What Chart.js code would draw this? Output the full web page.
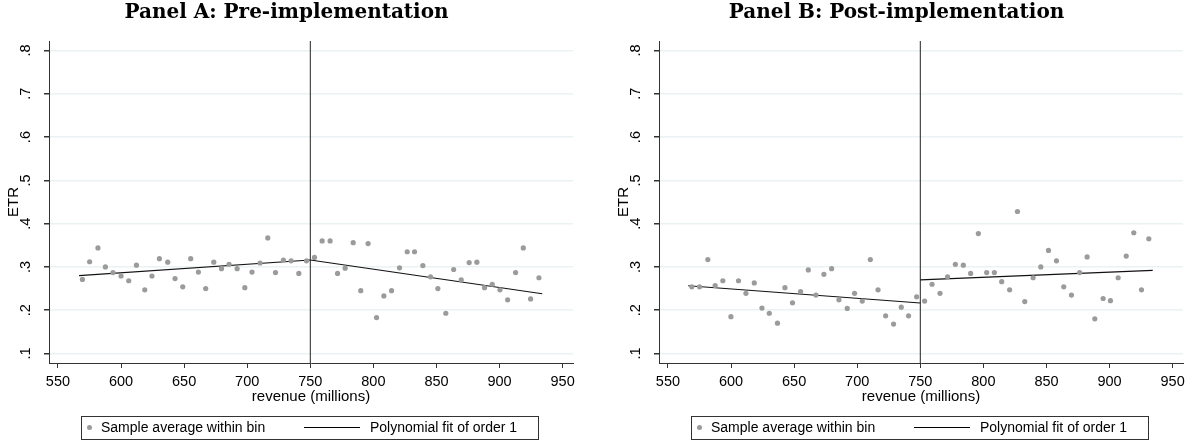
<!DOCTYPE html>
<html>
<head>
<meta charset="utf-8">
<script src="https://cdn.jsdelivr.net/npm/chart.js@4.4.1/dist/chart.umd.min.js"></script>
<style>
	body { margin: 0; background: #fff; width: 1194px; height: 443px; overflow: hidden; position: relative; font-family: 'Liberation Sans', Arial, sans-serif; }
	.panel { position: absolute; top: 0; }
	.legend { position: absolute; top: 416px; width: 458px; height: 24px; border: 1px solid #333; box-sizing: border-box; font-size: 14px; color: #000; }
	.legend .dot { position: absolute; left: 5px; top: 8px; width: 5px; height: 5px; border-radius: 50%; background: #9b9b9b; }
	.legend .t1 { position: absolute; left: 19px; top: 2px; white-space: nowrap; }
	.legend .ln { position: absolute; left: 222px; top: 10px; width: 56px; height: 0; border-top: 1px solid #000; }
	.legend .t2 { position: absolute; left: 288px; top: 2px; white-space: nowrap; }
</style>
</head>
<body>

<div class="panel" style="left:0px"><canvas id="panelA" width="586" height="443"></canvas></div>
<div class="panel" style="left:610px"><canvas id="panelB" width="584" height="443"></canvas></div>

<div class="legend" style="left:81px">
	<span class="dot"></span><span class="t1">Sample average within bin</span>
	<span class="ln"></span><span class="t2">Polynomial fit of order 1</span>
</div>
<div class="legend" style="left:691px">
	<span class="dot"></span><span class="t1">Sample average within bin</span>
	<span class="ln"></span><span class="t2">Polynomial fit of order 1</span>
</div>

<script>
// ----- ----- -----
// data
// ----- ----- -----

const revTicks = [550, 600, 650, 700, 750, 800, 850, 900, 950];
const etrTicks = [0.1, 0.2, 0.3, 0.4, 0.5, 0.6, 0.7, 0.8];
const cutoff = 750;

// Panel A: pre-implementation, bin averages
const binRevA = [
	569.4, 575.1, 581.7, 587.6, 593.6, 600.0, 606.1, 612.2, 618.8, 624.5,
	630.4, 637.0, 642.8, 648.9, 655.2, 661.3, 667.1, 673.5, 679.6, 685.6,
	692.0, 698.1, 703.8, 710.2, 716.3, 722.4, 728.7, 734.8, 740.9, 747.0,
	753.3, 759.4, 765.7, 771.6, 777.6, 784.0, 790.0, 795.8, 802.5, 808.3,
	814.4, 820.7, 826.8, 832.6, 839.2, 845.3, 851.1, 857.4, 863.6, 869.6,
	875.9, 882.0, 888.1, 894.2, 900.3, 906.4, 912.7, 918.8, 924.6, 931.2
];
const etrA = [
	0.271, 0.312, 0.344, 0.300, 0.287, 0.279, 0.268, 0.304, 0.247, 0.279,
	0.319, 0.311, 0.273, 0.254, 0.319, 0.288, 0.250, 0.311, 0.296, 0.306,
	0.296, 0.252, 0.288, 0.309, 0.367, 0.287, 0.316, 0.314, 0.285, 0.314,
	0.322, 0.360, 0.360, 0.285, 0.297, 0.356, 0.245, 0.354, 0.183, 0.233,
	0.245, 0.298, 0.335, 0.335, 0.303, 0.277, 0.250, 0.193, 0.294, 0.270,
	0.310, 0.311, 0.252, 0.260, 0.247, 0.224, 0.287, 0.344, 0.226, 0.275
];
const fitRevLeftA = [566.7, 750];
const fitEtrLeftA = [0.280, 0.316];
const fitRevRightA = [750, 933.8];
const fitEtrRightA = [0.316, 0.238];

// Panel B: post-implementation, bin averages
const binRevB = [
	568.9, 575.0, 581.6, 587.4, 593.5, 599.9, 605.9, 611.8, 618.4, 624.5,
	630.3, 636.8, 642.7, 648.7, 655.1, 661.2, 667.3, 673.6, 679.7, 685.5,
	692.1, 697.9, 704.0, 710.4, 716.5, 722.5, 728.8, 734.9, 740.7, 747.1,
	753.4, 759.3, 765.6, 771.6, 777.8, 784.1, 789.9, 796.0, 802.6, 808.7,
	814.5, 820.8, 827.0, 832.8, 839.4, 845.5, 851.6, 857.9, 863.7, 869.8,
	876.3, 882.2, 888.3, 894.9, 900.7, 906.8, 913.2, 919.2, 925.3, 931.1
];
const etrB = [
	0.254, 0.254, 0.317, 0.257, 0.268, 0.185, 0.268, 0.239, 0.263, 0.205,
	0.193, 0.170, 0.252, 0.217, 0.243, 0.293, 0.235, 0.283, 0.296, 0.224,
	0.204, 0.239, 0.221, 0.317, 0.247, 0.187, 0.168, 0.207, 0.187, 0.231,
	0.221, 0.260, 0.239, 0.277, 0.306, 0.304, 0.285, 0.377, 0.287, 0.287,
	0.266, 0.247, 0.428, 0.220, 0.275, 0.300, 0.338, 0.314, 0.254, 0.235,
	0.287, 0.323, 0.180, 0.227, 0.222, 0.275, 0.325, 0.379, 0.247, 0.365
];
const fitRevLeftB = [566.0, 750];
const fitEtrLeftB = [0.2565, 0.2166];
const fitRevRightB = [750, 934.2];
const fitEtrRightB = [0.270, 0.292];

const revMin = 542.9, revMax = 958.2;
const etrMin = 0.078, etrMax = 0.822;

// ----- ----- -----
// chart js
// ----- ----- -----

function pairs(xs, ys) {
	return xs.map((x, i) => ({x: x, y: ys[i]}));
}

const tickFont = {family: "'Liberation Sans', Arial, sans-serif", size: 14.5};
const titleFont = {family: "'Liberation Sans', Arial, sans-serif", size: 15};

function makePanel(id, title, rev, etr, fitL, fitR, padRight) {
	return new Chart(id, {
		type: 'scatter',
		data: {
			datasets: [{
				label: 'Sample average within bin',
				data: pairs(rev, etr),
				pointRadius: 2.6,
				pointHoverRadius: 2.6,
				backgroundColor: '#9b9b9b',
				borderWidth: 0
			}, {
				label: 'Polynomial fit of order 1',
				data: pairs(fitL[0], fitL[1]),
				showLine: true,
				borderColor: '#111',
				borderWidth: 1.2,
				pointRadius: 0
			}, {
				label: 'fit right',
				data: pairs(fitR[0], fitR[1]),
				showLine: true,
				borderColor: '#111',
				borderWidth: 1.2,
				pointRadius: 0
			}, {
				label: 'cutoff',
				data: pairs([cutoff, cutoff], [etrMin, etrMax]),
				showLine: true,
				borderColor: '#222',
				borderWidth: 1,
				pointRadius: 0
			}]
		},
		options: {
			responsive: false,
			animation: false,
			events: [],
			layout: {
				padding: {left: 0, right: padRight, top: 0, bottom: 37}
			},
			plugins: {
				legend: {display: false},
				tooltip: {enabled: false},
				title: {
					display: true,
					text: title,
					color: '#000',
					font: {family: "'DejaVu Serif', serif", size: 20, weight: 'bold', lineHeight: 1.2},
					padding: {top: 0.3, bottom: 16.7}
				}
			},
			scales: {
				x: {
					type: 'linear',
					min: revMin,
					max: revMax,
					afterBuildTicks: (s) => { s.ticks = revTicks.map(v => ({value: v})); },
					afterFit: (s) => { s.height = 43; },
					ticks: {color: '#000', font: tickFont, padding: 5, maxRotation: 0, autoSkip: false},
					grid: {drawOnChartArea: false, drawTicks: true, tickLength: 5, tickColor: '#333', color: '#333'},
					border: {color: '#333', width: 1},
					title: {display: true, text: 'revenue (millions)', color: '#000', font: titleFont, padding: {top: 0, bottom: 0}}
				},
				y: {
					type: 'linear',
					min: etrMin,
					max: etrMax,
					afterBuildTicks: (s) => { s.ticks = etrTicks.map(v => ({value: v})); },
					afterFit: (s) => { s.width = 49; },
					ticks: {
						color: '#000',
						font: tickFont,
						minRotation: 90,
						maxRotation: 90,
						crossAlign: 'center',
						padding: 11.5,
						callback: (v) => v.toFixed(1).replace(/^0/, '')
					},
					grid: {color: '#eaf2f3', lineWidth: 1.5, tickColor: '#333', tickLength: 5},
					border: {color: '#333', width: 1},
					title: {display: true, text: 'ETR', color: '#000', font: titleFont, padding: {top: 4.5, bottom: 0}}
				}
			}
		}
	});
}

makePanel('panelA', 'Panel A: Pre-implementation', binRevA, etrA,
	[fitRevLeftA, fitEtrLeftA], [fitRevRightA, fitEtrRightA], 13);
makePanel('panelB', 'Panel B: Post-implementation', binRevB, etrB,
	[fitRevLeftB, fitEtrLeftB], [fitRevRightB, fitEtrRightB], 11);
</script>
</body>
</html>
